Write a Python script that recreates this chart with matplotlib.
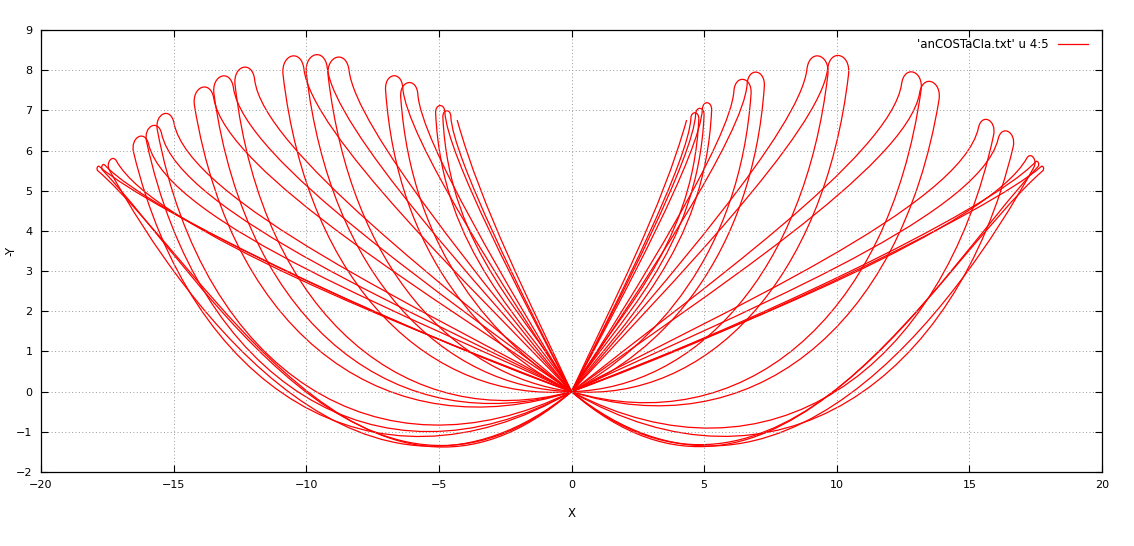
import numpy as np
import matplotlib
matplotlib.use("Agg")
import matplotlib.pyplot as plt
from matplotlib.path import Path
from matplotlib.patches import PathPatch

# ---- data -----------------------------------------------------------------
# loop tips (extreme point of each loop), departure angle of the outgoing arc
# at the origin (deg, measured from the outward horizontal, + = upward),
# orientation of the loop nose (deg, outward coords) and loop width at its tip
left_tip_x = [-17.88, -17.70, -17.40, -16.33, -15.83, -15.39, -13.94, -13.19,
              -12.38, -10.55, -9.67, -8.85, -6.72, -6.15, -4.96, -4.71]
left_tip_y = [5.58, 5.62, 5.76, 6.34, 6.61, 6.91, 7.57, 7.85,
              8.07, 8.35, 8.38, 8.32, 7.86, 7.69, 7.12, 6.99]
left_depart = [-30, -29, -28, -21, -20, -18, -12, -11,
               -10, -3, 1, 5, 18, 24, 45, 50]
left_axis = [30, 35, 50, 70, 72, 74, 76, 78,
             80, 80, 80, 80, 84, 84, 86, 86]
left_capw = [0.12, 0.15, 0.35, 0.6, 0.6, 0.65, 0.75, 0.75,
             0.75, 0.8, 0.8, 0.8, 0.65, 0.65, 0.35, 0.3]

right_tip_x = [17.79, 17.60, 17.41, 16.47, 15.72, 13.58, 12.89, 10.12,
               9.34, 6.98, 6.48, 5.12, 4.85, 4.66]
right_tip_y = [5.58, 5.70, 5.83, 6.47, 6.76, 7.71, 7.95, 8.36,
               8.35, 7.95, 7.77, 7.19, 7.05, 6.94]
right_depart = [-30, -29, -28, -21, -19, -12, -11, -3,
                1, 15, 20, 42, 46, 50]
right_axis = [30, 35, 50, 70, 72, 76, 78, 80,
              80, 84, 84, 86, 86, 86]
right_capw = [0.12, 0.15, 0.35, 0.6, 0.6, 0.75, 0.75, 0.8,
              0.8, 0.65, 0.65, 0.35, 0.32, 0.3]

# free ends of the trajectory
end_x = [-4.31, 4.34]
end_y = [6.76, 6.76]

legend_label = "'anCOSTaCIa.txt' u 4:5"
x_ticks = [-20, -15, -10, -5, 0, 5, 10, 15, 20]
y_ticks = [-2, -1, 0, 1, 2, 3, 4, 5, 6, 7, 8, 9]

LINE_COLOR = "#ff0000"


def unit(deg):
    r = np.radians(deg)
    return np.array([np.cos(r), np.sin(r)])


def petal_verts(tx, ty, depart, axis, capw):
    s = 1.0 if tx > 0 else -1.0
    u = abs(tx)
    T = np.array([u, ty])
    a = unit(axis)
    n = np.array([a[1], -a[0]])
    c = capw * 0.5
    S1 = T - c * a + 0.5 * capw * n
    S2 = T - c * a - 0.5 * capw * n
    dist = np.hypot(u, ty)
    O = np.array([0.0, 0.0])
    P1 = 0.5 * u * unit(depart)
    k1 = 0.25 + 0.15 * np.clip((axis - 50) / 30.0, 0, 1)
    P2 = S1 - k1 * dist * a
    Q1 = S1 + 4.0 / 3.0 * c * a
    Q2 = S2 + 4.0 / 3.0 * c * a
    R1 = S2 - 0.12 * dist * a
    beta = np.degrees(np.arctan2(ty, u)) - 4
    R2 = 0.35 * dist * unit(beta)
    v = np.array([O, P1, P2, S1, Q1, Q2, S2, R1, R2, O])
    v[:, 0] *= s
    return v


def end_verts(ex, ey):
    s = 1.0 if ex > 0 else -1.0
    u = abs(ex)
    E = np.array([u, ey])
    d = np.hypot(u, ey)
    O = np.array([0.0, 0.0])
    P1 = 0.35 * d * unit(55)
    P2 = E + 0.3 * d * np.array([-0.39, -0.92])
    v = np.array([O, P1, P2, E])
    v[:, 0] *= s
    return v


fig = plt.figure(figsize=(11.34, 5.46), dpi=100)
ax = fig.add_axes([41 / 1134, 74 / 546, 1061 / 1134, 442 / 546])

petal_codes = [Path.MOVETO] + [Path.CURVE4] * 9
end_codes = [Path.MOVETO] + [Path.CURVE4] * 3

groups = [
    (left_tip_x, left_tip_y, left_depart, left_axis, left_capw),
    (right_tip_x, right_tip_y, right_depart, right_axis, right_capw),
]
for xs, ys, dep, axs, cw in groups:
    for tx, ty, dp, ag, w in zip(xs, ys, dep, axs, cw):
        p = Path(petal_verts(tx, ty, dp, ag, w), petal_codes)
        ax.add_patch(PathPatch(p, fill=False, edgecolor=LINE_COLOR, lw=0.9))
for ex, ey in zip(end_x, end_y):
    p = Path(end_verts(ex, ey), end_codes)
    ax.add_patch(PathPatch(p, fill=False, edgecolor=LINE_COLOR, lw=0.9))

ax.plot([], [], color=LINE_COLOR, lw=0.9, label=legend_label)

ax.set_xlim(-20, 20)
ax.set_ylim(-2, 9)
ax.set_xticks(x_ticks)
ax.set_yticks(y_ticks)
ax.tick_params(direction="in", length=5, width=0.8, top=True, right=True,
               labelsize=8, colors="#000000", pad=6)
ax.grid(True, color="#9a9a9a", linestyle=(0, (1, 2.5)), linewidth=0.7)
for sp in ax.spines.values():
    sp.set_color("#000000")
    sp.set_linewidth(0.9)

ax.set_xlabel("X", fontsize=8.5, labelpad=12)
ax.set_ylabel("-Y", fontsize=8.5)
ax.yaxis.set_label_coords(-24 / 1061, 0.5)

ax.legend(loc="upper right", frameon=False, markerfirst=False, fontsize=8.5,
          handlelength=2.6, borderaxespad=0.3, bbox_to_anchor=(0.995, 1.0))

fig.savefig("out.png", dpi=100)
